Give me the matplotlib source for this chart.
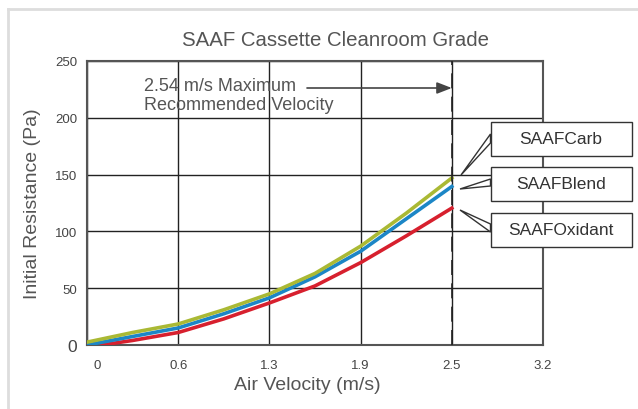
import matplotlib
matplotlib.use("Agg")
from matplotlib import pyplot as plt
from matplotlib.patches import Rectangle, Polygon
from matplotlib.lines import Line2D
import matplotlib.transforms as mtransforms

plt.rcParams['font.family'] = ['Liberation Sans', 'DejaVu Sans']

# data (air velocity in m/s, resistance in Pa)
velocity = [0, 0.3175, 0.635, 0.9525, 1.27, 1.5875, 1.905, 2.2225, 2.54]
velocity_ox = [0.1, 0.3175, 0.635, 0.9525, 1.27, 1.5875, 1.905, 2.2225, 2.54]
carb = [2.5, 11, 18.5, 31, 45, 63, 87, 116, 147]
blend = [0, 7.5, 15, 27.5, 41.5, 60, 82.5, 111, 139.5]
oxidant = [0, 4, 11, 23, 37, 52, 72.5, 96, 120.5]

x_ticks = [0, 0.635, 1.27, 1.905, 2.54, 3.175]
x_labels = ['0', '0.6', '1.3', '1.9', '2.5', '3.2']
y_ticks = [0, 50, 100, 150, 200, 250]
max_velocity = 2.54

W, H = 638, 410
fig = plt.figure(figsize=(W / 100, H / 100), dpi=100)
ax = fig.add_axes([87 / W, 1 - 346 / H, 456 / W, 284 / H])

def px(x, y):
    # figure pixel (from top-left) -> figure fraction
    return (x / W, 1 - y / H)

# light outer frame
fig.add_artist(Line2D([8 / W, 8 / W], [0, 1 - 10 / H], color='#dddddd', lw=2))
fig.add_artist(Line2D([8 / W, 1], [1 - 10 / H, 1 - 10 / H], color='#dddddd', lw=2))

ax.set_xlim(0, 3.175)
ax.set_ylim(0, 250)
ax.set_xticks(x_ticks)
ax.set_xticklabels(x_labels)
ax.set_yticks(y_ticks)
ax.grid(True, color='#222222', lw=1)
ax.set_axisbelow(True)
ax.tick_params(length=0, colors='#444444', labelsize=9.5)
ax.tick_params(axis='x', pad=10)
ax.tick_params(axis='y', pad=7)
for s in ax.spines.values():
    s.set_color('#555555')
    s.set_linewidth(1.5)

# quirks of the reference tick labels
lbls = ax.get_xticklabels()
lbls[0].set_transform(lbls[0].get_transform() +
                      mtransforms.ScaledTranslation(10 / 100, 0, fig.dpi_scale_trans))
ylbls = ax.get_yticklabels()
ylbls[0].set_fontsize(12.5)

ax.plot(velocity_ox, oxidant, color='#d7202e', lw=2.6, solid_joinstyle='round', zorder=3)
ax.plot(velocity, blend, color='#1c86c6', lw=2.6, solid_joinstyle='round', zorder=4)
ax.plot(velocity, carb, color='#aab934', lw=2.6, solid_joinstyle='round', zorder=5)

ax.axvline(max_velocity, color='#222222', lw=1.2, dashes=(9, 5), zorder=6)

fig.text(144 / W, 1 - 78 / H, '2.54 m/s Maximum\nRecommended Velocity',
         fontsize=13, color='#555555', ha='left', va='top', linespacing=1.12)
ax.annotate('', xy=(max_velocity, 1 - 27 / 284), xycoords=('data', 'axes fraction'),
            xytext=(307 / W, 1 - 89 / H), textcoords='figure fraction',
            arrowprops=dict(arrowstyle='-|>,head_length=0.9,head_width=0.35',
                            color='#444444', lw=1.2, shrinkA=0, shrinkB=0))

fig.text(335 / W, 1 - 40 / H, 'SAAF Cassette Cleanroom Grade', fontsize=14.7,
         color='#555555', ha='center', va='center')
fig.text(307 / W, 1 - 386 / H, 'Air Velocity (m/s)', fontsize=14,
         color='#555555', ha='center', va='center')
ax.set_ylabel('Initial Resistance (Pa)', fontsize=14, color='#555555', labelpad=10)

# callout boxes
boxes = [
    ('SAAFCarb', 122.5, 135, 144, (461, 176)),
    ('SAAFBlend', 168, 180, 187, (460, 190)),
    ('SAAFOxidant', 214, 225, 233, (460, 211)),
]
for name, top, w1, w2, tip in boxes:
    wedge = Polygon([px(490.5, w1), px(tip[0], tip[1]), px(490.5, w2)],
                    closed=True, transform=fig.transFigure, facecolor='white',
                    edgecolor='#333333', lw=1, zorder=10)
    fig.add_artist(wedge)
    x0, y0 = px(490.5, top + 34)
    rect = Rectangle((x0, y0), 141 / W, 34 / H, transform=fig.transFigure,
                     facecolor='white', edgecolor='#333333', lw=1, zorder=11)
    fig.add_artist(rect)
    cx, cy = px(561, top + 17)
    fig.text(cx, cy, name, fontsize=12.5, color='#333333', ha='center', va='center', zorder=12)

fig.savefig('out.png', dpi=100)
